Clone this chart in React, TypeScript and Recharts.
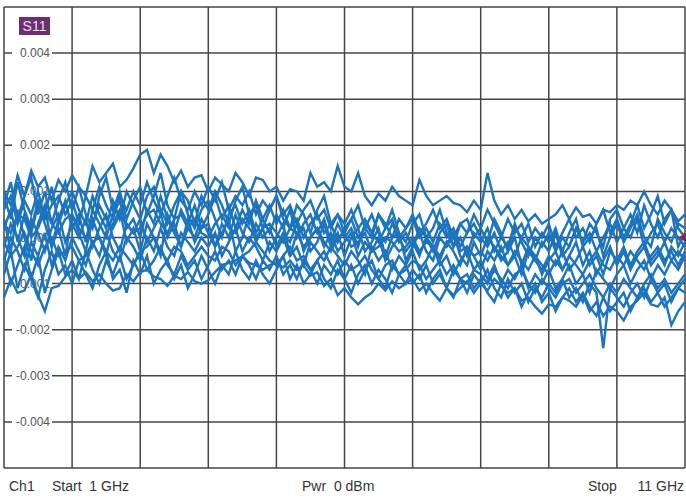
import React from "react";
import {
  LineChart,
  Line,
  XAxis,
  YAxis,
  CartesianGrid,
  ReferenceDot,
} from "recharts";

// Sweep settings
const FREQ_START = 1; // GHz
const FREQ_STOP = 11; // GHz
const X_TICKS = [1, 2, 3, 4, 5, 6, 7, 8, 9, 10, 11];
const Y_TICKS = [-0.005, -0.004, -0.003, -0.002, -0.001, 0, 0.001, 0.002, 0.003, 0.004, 0.005];
const UNIT = 0.001; // trace values below are in units of 0.001

// Traces (units of 0.001)
const trace1 = [
  1.0, 0.7, 1.35, 0.9, 1.45, 1.1, 1.3, 0.8, 1.25, 1.0,
  1.35, 1.1, 0.9, 1.55, 1.2, 1.4, 1.6, 1.1, 1.25, 1.5,
  1.8, 1.9, 1.4, 1.8, 1.55, 1.2, 1.45, 1.1, 1.3, 1.35,
  1.0, 1.3, 1.15, 1.0, 1.4, 1.2, 0.9, 1.3, 1.25, 1.0,
  1.1, 0.8, 1.05, 1.0, 0.8, 1.4, 1.1, 1.2, 1.0, 1.55,
  1.1, 1.0, 1.4, 0.9, 0.7, 0.95, 0.8, 1.1, 0.9, 0.8,
  0.7, 1.25, 0.9, 0.7, 0.8, 0.9, 0.75, 0.7, 0.55, 0.8,
  0.6, 1.4, 0.8, 0.5, 0.7, 0.4, 0.6, 0.35, 0.5, 0.3,
  0.4, 0.5, 0.7, 0.4, 0.65, 0.45, 0.5, 0.3, 0.6, 0.55,
  0.7, 0.6, 0.8, 0.7, 1.0, 0.7, 0.5, 0.8, 0.6, 0.35,
  0.5,
];
const trace2 = [
  0.6, 0.9, 0.3, 0.8, 0.5, 1.0, 0.4, 0.7, 0.9, 0.5,
  0.8, 0.3, 0.9, 0.6, 1.1, 0.7, 0.4, 0.9, 0.6, 1.0,
  0.7, 1.2, 0.8, 0.5, 0.9, 1.3, 0.8, 0.6, 1.0, 0.7,
  1.1, 0.8, 1.2, 0.6, 0.9, 0.7, 1.0, 0.5, 0.8, 0.6,
  0.9, 0.5, 0.7, 0.3, 0.6, 0.8, 0.4, 0.6, 0.2, 0.5,
  0.3, 0.6, 0.2, 0.4, 0.1, 0.5, 0.3, 0.0, 0.4, 0.2,
  0.5, 0.1, 0.3, 0.6, 0.2, 0.4, 0.0, 0.3, 0.1, 0.5,
  0.2, 0.6, 0.3, 0.0, 0.4, 0.1, 0.3, -0.1, 0.2, 0.0,
  0.3, -0.2, 0.1, 0.4, 0.0, 0.2, -0.1, 0.3, 0.6, 0.1,
  0.4, 0.0, 0.3, 0.7, 0.2, 0.5, 0.9, 0.3, 0.6, 0.2,
  0.0,
];
const trace3 = [
  0.2, 0.6, -0.1, 0.5, 0.1, 0.7, 0.3, -0.2, 0.4, 0.8,
  0.2, 0.5, -0.1, 0.6, 0.3, 0.0, 0.5, 0.8, 0.2, 0.4,
  0.0, 0.6, 0.3, 0.9, 0.4, 0.1, 0.6, 0.3, 0.7, 0.2,
  0.5, 0.9, 0.4, 0.7, 0.2, 0.6, 0.3, 0.8, 0.4, 0.1,
  0.5, 0.2, 0.6, 0.0, 0.3, 0.5, 0.1, 0.4, -0.1, 0.3,
  0.0, 0.2, -0.2, 0.3, 0.1, -0.1, 0.2, 0.4, -0.1, 0.1,
  -0.2, 0.2, 0.0, -0.3, 0.1, 0.3, -0.2, 0.0, -0.4, 0.1,
  -0.1, 0.2, -0.3, 0.0, -0.2, 0.3, -0.1, -0.4, 0.0, -0.2,
  0.1, -0.3, 0.0, -0.2, 0.2, -0.1, 0.1, -0.3, 0.0, 0.3,
  -0.1, 0.2, 0.0, 0.4, -0.2, 0.1, 0.3, -0.1, 0.2, 0.0,
  -0.2,
];
const trace4 = [
  -0.2, 0.3, 0.0, -0.4, 0.4, 0.1, -0.3, 0.2, 0.5, -0.1,
  0.3, 0.0, 0.4, -0.2, 0.2, 0.5, 0.0, -0.3, 0.3, 0.1,
  0.4, -0.1, 0.2, 0.5, 0.0, 0.3, -0.2, 0.2, 0.0, 0.4,
  0.1, -0.2, 0.3, 0.0, 0.5, 0.1, -0.1, 0.3, 0.0, 0.2,
  -0.2, 0.1, -0.1, 0.3, -0.3, 0.0, 0.2, -0.2, 0.1, -0.3,
  -0.1, 0.1, -0.4, -0.1, -0.3, 0.0, -0.5, -0.2, 0.0, -0.3,
  -0.1, -0.4, 0.0, -0.2, -0.5, -0.1, -0.3, -0.6, -0.2, -0.4,
  -0.7, -0.3, -0.5, -0.2, -0.6, -0.4, -0.8, -0.3, -0.5, -0.7,
  -0.4, -0.6, -0.3, -0.7, -0.5, -0.2, -0.6, -0.4, -0.8, -0.3,
  -0.5, -0.2, -0.6, -0.3, -0.1, -0.5, -0.3, -0.6, -0.2, -0.4,
  -0.1,
];
const trace5 = [
  -0.5, 0.0, -0.3, -0.7, -0.1, -0.4, 0.1, -0.6, -0.2, -0.5,
  0.0, -0.3, -0.6, -0.1, -0.4, 0.1, -0.3, -0.5, 0.0, -0.2,
  -0.5, 0.0, -0.3, 0.2, -0.2, -0.4, 0.1, -0.1, -0.3, 0.0,
  -0.2, 0.1, -0.4, -0.1, 0.2, -0.3, 0.0, -0.2, -0.5, -0.1,
  -0.3, 0.0, -0.4, -0.2, -0.6, -0.1, -0.3, -0.5, -0.2, -0.4,
  -0.6, -0.3, -0.5, -0.8, -0.2, -0.5, -0.3, -0.7, -0.4, -0.6,
  -0.3, -0.7, -0.5, -0.2, -0.6, -0.4, -0.8, -0.5, -0.3, -0.7,
  -0.5, -0.9, -0.6, -1.0, -0.7, -0.9, -0.6, -1.1, -0.8, -1.0,
  -0.7, -1.1, -0.9, -0.6, -1.0, -0.8, -1.2, -0.7, -0.9, -1.1,
  -0.8, -0.6, -1.0, -0.7, -0.5, -0.9, -0.6, -0.8, -0.5, -0.7,
  -0.4,
];
const trace6 = [
  -0.8, -0.3, -1.1, -0.6, -0.9, -0.4, -1.2, -0.7, -0.3, -0.8,
  -0.5, -0.9, -0.3, -0.7, -1.0, -0.5, -0.8, -0.4, -0.9, -0.6,
  -0.3, -0.7, -0.5, -0.2, -0.6, -0.8, -0.4, -0.7, -0.5, -0.9,
  -0.6, -0.3, -0.7, -0.5, -0.8, -0.4, -0.6, -0.9, -0.5, -0.7,
  -0.4, -0.8, -0.6, -0.9, -0.5, -0.7, -1.0, -0.6, -0.8, -0.5,
  -0.9, -0.6, -1.0, -0.7, -0.5, -0.9, -1.1, -0.6, -0.8, -1.0,
  -0.7, -0.9, -0.6, -1.0, -0.8, -1.1, -0.7, -0.9, -1.2, -0.8,
  -1.0, -0.7, -1.1, -1.3, -0.9, -1.2, -1.0, -1.4, -1.1, -1.3,
  -1.0, -1.2, -0.9, -1.3, -1.1, -1.4, -1.0, -1.2, -2.4, -1.1,
  -1.3, -1.5, -1.2, -1.0, -1.3, -0.9, -1.2, -1.0, -1.4, -1.1,
  -0.9,
];
const trace7 = [
  -1.3, -0.9, -1.2, -1.15, -0.8, -1.25, -1.6, -1.1, -1.05, -0.85,
  -0.7, -0.9, -0.75, -0.95, -0.8, -1.0, -1.15, -1.1, -0.8, -0.95,
  -0.75, -0.7, -0.85, -0.9, -1.05, -0.83, -0.9, -0.75, -0.95, -1.0,
  -0.93, -0.75, -0.6, -0.55, -0.5, -0.4, -0.55, -0.6, -0.7, -0.6,
  -0.55, -0.65, -0.5, -0.7, -0.6, -0.83, -0.75, -1.05, -0.9, -1.25,
  -1.1, -1.3, -1.45, -1.3, -1.2, -1.0, -1.15, -0.95, -1.1, -1.0,
  -0.9, -1.15, -1.0, -1.2, -1.37, -1.1, -1.25, -1.1, -0.95, -1.2,
  -1.0, -1.15, -0.9, -1.05, -1.2, -1.1, -1.37, -1.3, -1.5, -1.65,
  -1.45, -1.5, -1.3, -1.37, -1.5, -1.25, -1.6, -1.4, -1.7, -1.5,
  -1.6, -1.8, -1.5, -1.37, -1.2, -1.45, -1.5, -1.3, -1.9, -1.6,
  -1.4,
];
const trace8 = [
  0.9, 0.4, 1.2, 0.6, 0.2, 0.8, 0.5, 1.1, 0.3, 0.7,
  1.0, 0.6, 0.3, 0.9, 0.5, 0.2, 0.8, 0.4, 1.0, 0.7,
  0.4, 0.9, 1.1, 0.6, 0.3, 0.7, 1.0, 0.5, 0.2, 0.6,
  0.8, 0.4, 0.0, 0.5, 0.7, 0.3, 0.6, 0.1, 0.4, 0.7,
  0.3, 0.6, 0.2, 0.4, 0.0, 0.3, 0.5, 0.1, 0.3, -0.1,
  0.2, 0.4, 0.0, 0.2, 0.5, 0.1, -0.1, 0.3, 0.0, 0.2,
  0.4, 0.0, 0.2, -0.1, 0.3, 0.0, 0.2, -0.2, 0.1, 0.3,
  0.0, -0.2, 0.1, -0.3, -0.1, -0.4, 0.0, -0.2, -0.5, -0.1,
  -0.3, 0.1, -0.4, -0.2, 0.2, -0.1, 0.3, 0.1, -0.2, 0.4,
  0.6, 0.2, 0.5, 0.1, 0.7, 0.3, 0.0, 0.4, 0.6, -0.2,
  0.1,
];
const trace9 = [
  0.3, 0.1, 0.5, 0.4, 0.0, 0.2, 0.6, 0.3, 0.1, 0.4,
  0.5, 0.2, 0.0, 0.3, 0.7, 0.4, 0.2, 0.5, 0.3, 0.1,
  0.2, 0.5, 0.6, 0.3, 0.1, 0.4, 0.5, 0.2, 0.4, 0.1,
  0.0, 0.3, 0.5, 0.2, 0.1, 0.4, 0.2, 0.0, 0.2, 0.3,
  0.1, -0.1, 0.2, 0.1, -0.2, 0.0, 0.2, -0.1, -0.3, 0.0,
  0.1, -0.2, -0.1, 0.1, -0.3, -0.2, 0.0, -0.1, -0.3, -0.2,
  0.0, -0.3, -0.1, -0.2, -0.4, -0.1, 0.0, -0.3, -0.2, -0.4,
  -0.3, -0.5, -0.2, -0.4, -0.6, -0.3, -0.5, -0.7, -0.4, -0.6,
  -0.8, -0.5, -0.7, -0.4, -0.6, -0.8, -0.5, -0.3, -0.6, -0.7,
  -0.4, -0.6, -0.3, -0.5, -0.7, -0.4, -0.2, -0.5, -0.3, -0.6,
  -0.3,
];
const trace10 = [
  -0.1, -0.4, -0.2, 0.1, -0.3, -0.6, -0.2, 0.0, -0.4, -0.3,
  -0.2, -0.5, -0.4, -0.1, 0.0, -0.3, -0.5, -0.2, -0.4, -0.6,
  -0.3, -0.2, 0.0, -0.3, -0.5, -0.2, -0.3, -0.6, -0.4, -0.2,
  -0.4, -0.5, -0.2, -0.3, -0.6, -0.4, -0.3, -0.1, -0.3, -0.5,
  -0.6, -0.4, -0.2, -0.5, -0.4, -0.7, -0.5, -0.3, -0.6, -0.8,
  -0.5, -0.7, -0.6, -0.4, -0.7, -0.9, -0.6, -0.5, -0.8, -0.7,
  -0.5, -0.6, -0.9, -0.7, -0.5, -0.8, -0.6, -0.9, -1.0, -0.7,
  -0.8, -1.0, -0.7, -0.9, -1.1, -0.8, -0.7, -1.0, -1.2, -0.9,
  -1.1, -1.3, -1.0, -0.9, -1.2, -1.0, -0.8, -1.1, -1.3, -1.0,
  -1.2, -0.9, -1.1, -1.3, -1.0, -0.8, -1.1, -0.9, -1.2, -1.0,
  -0.8,
];
const trace11 = [
  0.7, 1.2, 0.4, 0.9, 1.3, 0.5, 1.0, 0.3, 0.8, 1.2,
  0.6, 1.1, 0.5, 0.2, 0.9, 1.3, 0.6, 1.0, 0.4, 0.8,
  1.1, 0.5, 0.9, 1.4, 0.7, 0.4, 1.0, 0.8, 0.3, 0.9,
  0.6, 1.0, 0.7, 0.3, 0.8, 1.1, 0.5, 0.7, 0.2, 0.6,
  0.9, 0.4, 0.2, 0.7, 0.5, 0.1, 0.6, 0.9, 0.3, 0.5,
  0.1, 0.4, 0.7, 0.2, 0.0, 0.5, 0.2, 0.6, 0.1, -0.1,
  0.3, 0.5, 0.0, 0.2, 0.6, 0.1, -0.2, 0.3, 0.4, 0.0,
  0.2, -0.1, 0.4, 0.1, -0.3, 0.2, 0.0, 0.3, -0.2, 0.1,
  -0.1, 0.2, -0.3, 0.1, 0.4, -0.2, 0.0, 0.2, -0.4, 0.0,
  0.3, -0.1, 0.2, 0.5, 0.0, -0.2, 0.4, 0.1, -0.1, 0.3,
  0.2,
];
const trace12 = [
  -0.4, -1.0, -0.6, -0.2, -0.9, -1.3, -0.7, -0.3, -0.8, -0.6,
  -1.0, -0.5, -0.8, -1.1, -0.6, -0.3, -0.9, -0.7, -1.2, -0.5,
  -0.8, -0.4, -1.0, -0.7, -0.5, -0.9, -0.6, -1.1, -0.8, -0.4,
  -0.7, -1.0, -0.6, -0.8, -0.3, -0.7, -0.9, -0.5, -0.8, -1.0,
  -0.7, -0.4, -0.9, -0.6, -1.0, -0.8, -0.5, -0.9, -1.1, -0.7,
  -0.9, -1.2, -0.8, -0.6, -1.0, -0.7, -0.9, -1.2, -0.8, -0.6,
  -1.0, -0.8, -1.2, -0.9, -0.7, -1.1, -1.3, -0.9, -0.8, -1.1,
  -0.9, -1.2, -1.4, -1.0, -1.3, -1.1, -1.5, -1.2, -1.0, -1.4,
  -1.2, -1.6, -1.3, -1.1, -1.4, -1.2, -1.5, -1.7, -1.3, -1.6,
  -1.4, -1.2, -1.6, -1.3, -1.1, -1.4, -1.2, -1.5, -1.3, -1.1,
  -1.2,
];
const trace13 = [
  0.4, -0.3, 0.6, 0.0, -0.5, 0.3, 0.7, -0.2, 0.2, -0.4,
  0.5, 0.1, -0.3, 0.4, 0.0, -0.4, 0.3, 0.6, -0.1, 0.2,
  -0.3, 0.3, 0.0, -0.4, 0.5, 0.1, -0.2, 0.4, -0.1, 0.2,
  0.3, -0.2, 0.1, 0.4, -0.3, 0.0, 0.5, -0.1, 0.2, -0.3,
  0.0, 0.3, -0.4, 0.1, 0.2, -0.3, -0.1, 0.3, -0.2, 0.1,
  -0.4, 0.0, 0.2, -0.3, -0.1, 0.2, -0.4, 0.0, 0.1, -0.5,
  -0.2, 0.1, -0.3, -0.5, 0.0, -0.2, 0.1, -0.4, -0.6, -0.1,
  -0.4, 0.0, -0.2, -0.5, -0.3, 0.0, -0.6, -0.2, -0.4, -0.8,
  -0.5, -0.3, -0.7, -0.4, -0.1, -0.6, -0.3, -0.8, -0.5, -0.2,
  -0.6, -0.3, -0.7, -0.4, -0.2, -0.6, -0.4, -0.1, -0.5, -0.3,
  -0.5,
];

const TRACES = [
  trace1, trace2, trace3, trace4, trace5, trace6, trace7,
  trace8, trace9, trace10, trace11, trace12, trace13,
];
const TRACE_KEYS = TRACES.map((_, k) => `t${k + 1}`);

const N = trace1.length;
const data = Array.from({ length: N }, (_, i) => {
  const row: Record<string, number> = {
    f: FREQ_START + ((FREQ_STOP - FREQ_START) * i) / (N - 1),
  };
  TRACES.forEach((tr, k) => {
    row[TRACE_KEYS[k]] = tr[i] * UNIT;
  });
  return row;
});

const TRACE_COLOR = "#1b74bd";
const GRID_COLOR = "#454545";
const FONT = "'Liberation Sans', Arial, sans-serif";
const W = 686;
const H = 500;
const MARGIN = { top: 7, right: 1, bottom: 32, left: 4 };

const YTick = (props: any) => {
  const { y, payload } = props;
  const v = payload.value;
  if (Math.abs(Math.abs(v) - 0.005) < 1e-9) return null;
  const label = v.toFixed(3);
  return (
    <g>
      <rect x={12} y={y - 7} width={40} height={14} fill="#ffffff" />
      <text
        x={50}
        y={y}
        dy={4}
        textAnchor="end"
        fontSize={12}
        fontFamily={FONT}
        fill="#555555"
      >
        {label}
      </text>
    </g>
  );
};

const Marker = (props: any) => {
  const { cx, cy } = props;
  return (
    <polygon
      points={`${cx - 7},${cy} ${cx + 2},${cy - 5} ${cx + 2},${cy + 5}`}
      fill="#8a2546"
    />
  );
};

const layer: React.CSSProperties = { position: "absolute", left: 0, top: 0 };

export default function App() {
  return (
    <div
      style={{
        position: "absolute",
        left: 0,
        top: 0,
        width: W,
        height: H,
        background: "#ffffff",
      }}
    >
      {/* background layer: grid and y labels */}
      <div style={layer}>
        <LineChart width={W} height={H} data={data} margin={MARGIN}>
          <CartesianGrid stroke={GRID_COLOR} strokeWidth={1.5} />
          <XAxis
            dataKey="f"
            type="number"
            domain={[FREQ_START, FREQ_STOP]}
            ticks={X_TICKS}
            hide
          />
          <YAxis
            type="number"
            domain={[-0.005, 0.005]}
            ticks={Y_TICKS}
            width={60}
            mirror
            axisLine={false}
            tickLine={false}
            tick={<YTick />}
            interval={0}
          />
          <Line
            dataKey={TRACE_KEYS[0]}
            stroke="none"
            strokeWidth={0}
            dot={false}
            isAnimationActive={false}
          />
        </LineChart>
      </div>
      {/* foreground layer: traces and marker */}
      <div style={layer}>
        <LineChart width={W} height={H} data={data} margin={MARGIN}>
          <XAxis
            dataKey="f"
            type="number"
            domain={[FREQ_START, FREQ_STOP]}
            ticks={X_TICKS}
            hide
          />
          <YAxis
            type="number"
            domain={[-0.005, 0.005]}
            ticks={Y_TICKS}
            hide
          />
          {TRACE_KEYS.map((k) => (
            <Line
              key={k}
              dataKey={k}
              type="linear"
              stroke={TRACE_COLOR}
              strokeWidth={2.4}
              dot={false}
              isAnimationActive={false}
            />
          ))}
          <ReferenceDot
            x={FREQ_STOP}
            y={0}
            r={5}
            shape={<Marker />}
            ifOverflow="visible"
          />
        </LineChart>
      </div>
      <div
        style={{
          position: "absolute",
          left: 19,
          top: 17,
          width: 31,
          height: 18,
          background: "#6e2f72",
          color: "#f3dff3",
          fontFamily: FONT,
          fontSize: 14,
          lineHeight: "18px",
          textAlign: "center",
        }}
      >
        S11
      </div>
      <div
        style={{
          position: "absolute",
          left: 0,
          top: 478,
          width: W,
          height: 20,
          fontFamily: FONT,
          fontSize: 14,
          color: "#333333",
          whiteSpace: "pre",
        }}
      >
        <span style={{ position: "absolute", left: 9, top: 0 }}>Ch1</span>
        <span style={{ position: "absolute", left: 52, top: 0 }}>{"Start  1 GHz"}</span>
        <span style={{ position: "absolute", left: 302, top: 0 }}>{"Pwr  0 dBm"}</span>
        <span style={{ position: "absolute", left: 588, top: 0 }}>Stop</span>
        <span style={{ position: "absolute", right: 2, top: 0 }}>11 GHz</span>
      </div>
    </div>
  );
}
